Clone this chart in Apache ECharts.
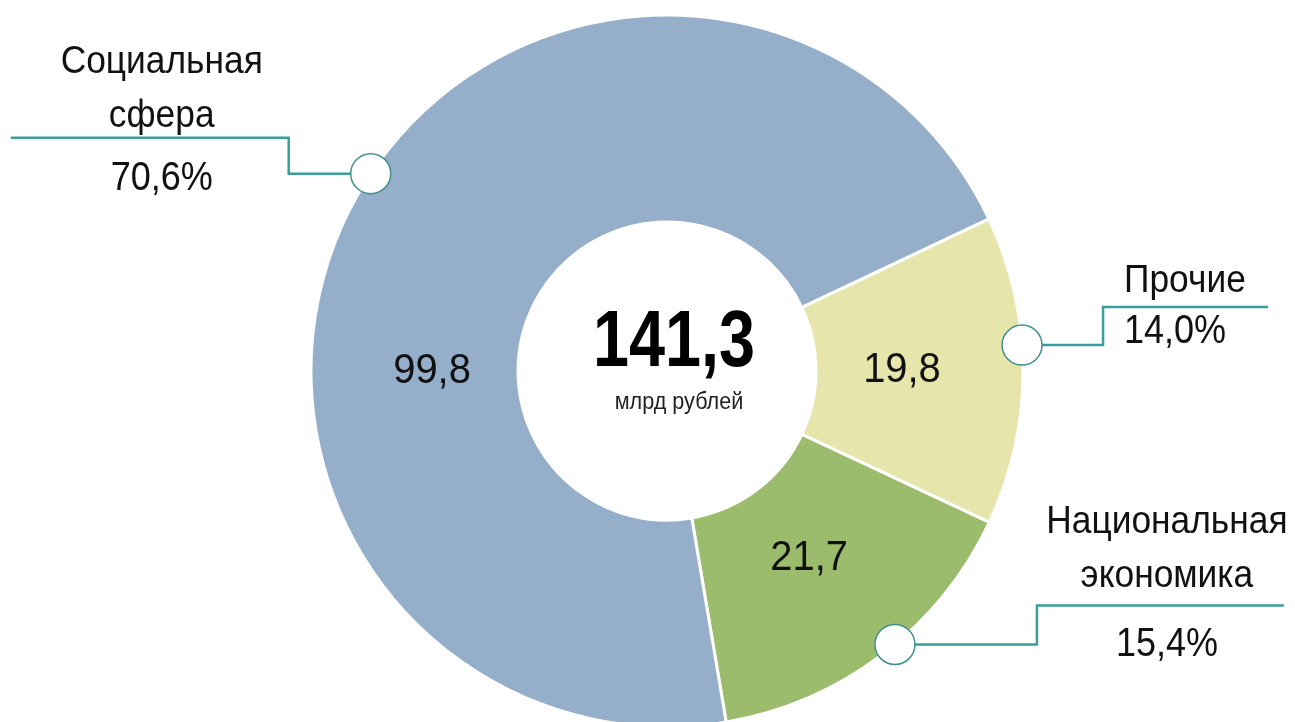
<!DOCTYPE html>
<html>
<head>
<meta charset="utf-8">
<script src="https://cdn.jsdelivr.net/npm/echarts@6/dist/echarts.min.js"></script>
<style>
    html, body { margin: 0; padding: 0; background: #fff; }
    #chart { width: 1295px; height: 722px; }
</style>
</head>
<body>
<div id="chart"></div>
<script>
// данные
var categories = ['Прочие', 'Национальная\nэкономика', 'Социальная\nсфера'];
var values = [19.8, 21.7, 99.8];
var unitLabel = 'млрд рублей';

var colors = ['#E6E5AC', '#9BBB6D', '#95AFCB'];
var FONT = '"Liberation Sans", Arial, sans-serif';

// раскладка выносок (градусы / пиксели)
var leaders = [
    { shift: -4.1, valShift: 0,     dir: 1,  elbow: 81,  rise: 38, run: 165, align: 'left',   textDx: 21,  nameDy: 1,  pctDy: 25 },
    { shift: -2.6, valShift: 0,     dir: 1,  elbow: 142, rise: 39, run: 247, align: 'center', textDx: 130, nameDy: -2, pctDy: 40 },
    { shift: 6.1,  valShift: -27.6, dir: -1, elbow: 82,  rise: 36, run: 278, align: 'center', textDx: 127, nameDy: 6,  pctDy: 41 }
];

var total = values.reduce(function (a, b) { return a + b; }, 0);
function fmt(v) { return v.toFixed(1).replace('.', ','); }

// середины секторов в градусах (по часовой от startAngle)
var midAngles = [];
var acc = 0;
values.forEach(function (v) {
    midAngles.push((acc + v / 2) / total * 360);
    acc += v;
});

var chart = echarts.init(document.getElementById('chart'));

chart.setOption({
    animation: false,
    polar: { center: [667, 371], radius: 356 },
    angleAxis: { type: 'value', min: 0, max: 360, startAngle: 25.3, clockwise: true, show: false },
    radiusAxis: { type: 'value', min: 0, max: 1, show: false },
    graphic: [
        {
            type: 'text', x: 674, y: 344, z: 10, scaleX: 0.81,
            style: { text: fmt(total), font: 'bold 80px ' + FONT, fill: '#000', align: 'center', verticalAlign: 'middle' }
        },
        {
            type: 'text', x: 679, y: 402, z: 10, scaleX: 0.9,
            style: { text: unitLabel, font: '24px ' + FONT, fill: '#222', align: 'center', verticalAlign: 'middle' }
        }
    ],
    series: [
        {
            type: 'pie',
            center: [667, 371],
            radius: [149, 356],
            startAngle: 25.3,
            clockwise: true,
            silent: true,
            label: { show: false },
            labelLine: { show: false },
            itemStyle: { borderColor: '#fff', borderWidth: 3 },
            data: values.map(function (v, i) {
                return { name: categories[i], value: v, itemStyle: { color: colors[i] } };
            })
        },
        // значения внутри секторов
        {
            type: 'custom',
            coordinateSystem: 'polar',
            silent: true,
            z: 5,
            data: values.map(function (v, i) { return [0.66, midAngles[i] + leaders[i].valShift]; }),
            renderItem: function (params, api) {
                var p = api.coord([api.value(0), api.value(1)]);
                return {
                    type: 'text', x: p[0], y: p[1], scaleX: 0.95,
                    style: { text: fmt(values[params.dataIndex]), font: '42px ' + FONT, fill: '#111', align: 'center', verticalAlign: 'middle' }
                };
            }
        },
        // выноски с подписями
        {
            type: 'custom',
            coordinateSystem: 'polar',
            silent: true,
            z: 6,
            data: values.map(function (v, i) { return [1, midAngles[i] + leaders[i].shift]; }),
            renderItem: function (params, api) {
                var i = params.dataIndex;
                var L = leaders[i];
                var p = api.coord([api.value(0), api.value(1)]);
                var ex = p[0] + L.dir * L.elbow;
                var ty = p[1] - L.rise;
                var endX = ex + L.dir * L.run;
                var tx = ex + L.dir * L.textDx;
                var pct = fmt(values[i] / total * 100) + '%';
                return {
                    type: 'group',
                    children: [
                        {
                            type: 'polyline',
                            shape: { points: [[p[0], p[1]], [ex, p[1]], [ex, ty], [endX, ty]] },
                            style: { stroke: '#3A9E9A', lineWidth: 2.5, fill: null }
                        },
                        {
                            type: 'circle',
                            shape: { cx: p[0], cy: p[1], r: 20 },
                            style: { fill: '#fff', stroke: '#3F8F8B', lineWidth: 1.5 }
                        },
                        {
                            type: 'text', x: tx, y: ty + L.nameDy, scaleX: 0.93,
                            style: { text: categories[i], font: '38px ' + FONT, fill: '#111', align: L.align, verticalAlign: 'bottom', lineHeight: 54 }
                        },
                        {
                            type: 'text', x: tx, y: ty + L.pctDy, scaleX: 0.9,
                            style: { text: pct, font: '40px ' + FONT, fill: '#111', align: L.align, verticalAlign: 'middle' }
                        }
                    ]
                };
            }
        }
    ]
});
</script>
</body>
</html>
